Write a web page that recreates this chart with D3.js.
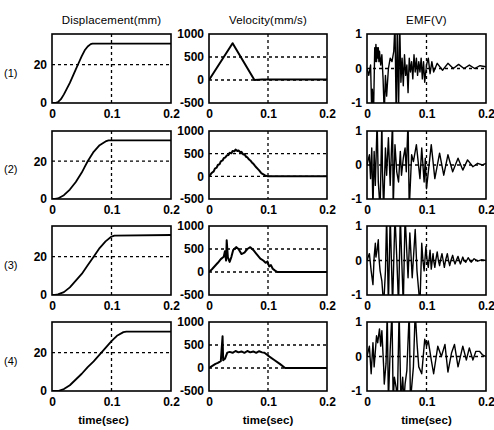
<!DOCTYPE html>
<html>
<head>
<meta charset="utf-8">
<script src="https://cdnjs.cloudflare.com/ajax/libs/d3/7.8.5/d3.min.js"></script>
<style>
body { margin: 0; background: #fff; }
svg text { font-family: "Liberation Sans", Arial, sans-serif; fill: #000; }
</style>
</head>
<body>
<script>
var titles = ["Displacement(mm)", "Velocity(mm/s)", "EMF(V)"];
var rowLabels = ["(1)", "(2)", "(3)", "(4)"];
var xTicks = [0, 0.1, 0.2];
var dispTicks = [0, 20];
var velTicks = [-500, 0, 500, 1000];
var emfTicks = [-1, 0, 1];

// displacement (mm), [time, value]
var disp1 = [[0,0],[0.005,0],[0.01,0.5],[0.015,2],[0.02,4.5],[0.025,7.5],[0.03,10.5],[0.035,14],[0.04,17.5],[0.045,21],[0.05,24.5],[0.055,27.5],[0.06,29.5],[0.065,30.7],[0.068,31],[0.2,31]];
var disp2 = [[0,0],[0.005,0],[0.01,0.3],[0.02,2],[0.03,5],[0.04,9],[0.05,14],[0.055,17],[0.06,20],[0.07,25],[0.08,28.5],[0.09,30.5],[0.095,31],[0.2,31]];
var disp3 = [[0,0],[0.005,0],[0.01,0.3],[0.02,1.5],[0.03,4],[0.04,7.5],[0.05,11],[0.06,15.5],[0.07,20],[0.08,24.5],[0.09,28],[0.1,30.5],[0.105,31],[0.2,31.3]];
var disp4 = [[0,0],[0.01,0],[0.02,1],[0.03,3],[0.04,6],[0.05,9],[0.06,12.5],[0.07,15.5],[0.08,19],[0.09,22.5],[0.1,26],[0.11,29],[0.12,30.7],[0.125,31],[0.2,31]];

// velocity (mm/s)
var vel1 = [[0,0],[0.04,800],[0.077,0],[0.09,10],[0.2,10]];
var vel2 = [[0,0],[0.005,80],[0.008,110],[0.01,170],[0.013,190],[0.015,250],[0.018,270],[0.02,330],[0.023,350],[0.025,400],[0.028,420],[0.03,460],[0.033,470],[0.035,520],[0.038,510],[0.04,560],[0.043,550],[0.045,590],[0.048,560],[0.05,570],[0.053,530],[0.055,540],[0.058,480],[0.06,490],[0.063,430],[0.065,420],[0.068,370],[0.07,350],[0.073,300],[0.075,280],[0.078,230],[0.08,200],[0.083,160],[0.085,130],[0.088,80],[0.09,60],[0.095,20],[0.1,0],[0.2,0]];
var vel3 = [[0,0],[0.005,60],[0.01,130],[0.015,200],[0.02,280],[0.025,330],[0.027,450],[0.029,250],[0.03,690],[0.032,320],[0.035,220],[0.038,330],[0.041,480],[0.046,540],[0.05,500],[0.055,390],[0.06,420],[0.065,500],[0.07,540],[0.075,480],[0.08,400],[0.087,290],[0.092,250],[0.096,200],[0.099,230],[0.102,120],[0.105,150],[0.108,70],[0.112,30],[0.116,0],[0.2,0]];
var vel4 = [[0,0],[0.005,40],[0.011,90],[0.015,110],[0.02,150],[0.023,690],[0.024,170],[0.027,200],[0.031,335],[0.035,350],[0.04,330],[0.045,370],[0.05,340],[0.055,360],[0.06,330],[0.065,370],[0.07,340],[0.075,360],[0.08,330],[0.085,365],[0.09,340],[0.094,330],[0.1,270],[0.11,180],[0.12,90],[0.129,0],[0.2,0]];

// EMF (V)
var emf1 = [[0,0],[0.003,-0.2],[0.006,0.1],[0.008,-1.3],[0.009,-0.6],[0.011,-1.3],[0.013,0.6],[0.014,0.2],[0.015,0.7],[0.016,0.2],[0.017,0.6],[0.018,0.3],[0.019,0.6],[0.02,0.2],[0.021,0.5],[0.023,0.1],[0.025,0.4],[0.027,-0.3],[0.029,-1.3],[0.031,-0.2],[0.033,-0.8],[0.036,0],[0.039,0.3],[0.042,0.2],[0.045,0.5],[0.047,1.3],[0.049,-1.3],[0.051,1.3],[0.053,-1.3],[0.055,1.3],[0.057,-0.4],[0.059,0.3],[0.061,-0.5],[0.063,0.4],[0.065,-0.2],[0.067,0.1],[0.069,-0.7],[0.071,0.3],[0.073,-0.1],[0.075,0.2],[0.077,-0.3],[0.079,0.4],[0.081,-0.1],[0.083,0.3],[0.085,-0.2],[0.087,0.2],[0.089,-0.1],[0.091,0.3],[0.093,-0.3],[0.095,0.2],[0.097,-0.4],[0.1,0.1],[0.103,0.3],[0.106,-0.15],[0.109,0.2],[0.112,-0.1],[0.118,0.15],[0.127,-0.05],[0.136,0.15],[0.145,0],[0.154,0.12],[0.163,0],[0.172,0.1],[0.181,0],[0.19,0.08],[0.2,0.05]];
var emf2 = [[0,0],[0.004,0.3],[0.006,-0.4],[0.008,0.5],[0.01,-1.3],[0.012,0.4],[0.014,-0.6],[0.017,1.3],[0.019,-0.5],[0.022,-1.3],[0.025,1.3],[0.026,-0.2],[0.028,-1.3],[0.031,0.5],[0.033,-0.3],[0.036,0.8],[0.039,-0.6],[0.041,0.4],[0.043,1.3],[0.044,-1.3],[0.047,0.6],[0.05,-0.2],[0.053,-0.5],[0.056,0.4],[0.058,-0.3],[0.061,0.2],[0.064,0.5],[0.066,-0.2],[0.069,1.3],[0.071,-1.3],[0.075,0.3],[0.078,0.1],[0.083,0.6],[0.086,0.1],[0.089,-0.4],[0.092,0.5],[0.096,-0.5],[0.098,0.2],[0.1,-0.7],[0.108,0.6],[0.114,-0.4],[0.122,0.35],[0.129,-0.3],[0.136,0.3],[0.144,-0.2],[0.153,0.2],[0.161,-0.15],[0.169,0.15],[0.178,-0.05],[0.186,0.05],[0.194,0],[0.2,0.05]];
var emf3 = [[0,0],[0.004,0.2],[0.007,-0.3],[0.01,-0.7],[0.012,0.1],[0.014,0.5],[0.015,0.1],[0.017,0.3],[0.019,0.6],[0.02,0.1],[0.022,-0.3],[0.025,-0.6],[0.028,-1.3],[0.031,-0.3],[0.033,1.3],[0.036,-1.3],[0.039,1.3],[0.043,-1.3],[0.047,1.3],[0.05,0.1],[0.053,-1.3],[0.056,1.3],[0.058,0.2],[0.061,-1.3],[0.064,1.3],[0.069,-0.5],[0.072,0.8],[0.076,-0.5],[0.081,0.9],[0.084,-0.3],[0.089,-1.3],[0.092,0.5],[0.094,0],[0.096,-0.3],[0.099,0.4],[0.101,0],[0.103,-0.2],[0.106,0.3],[0.108,-0.25],[0.111,0.2],[0.112,0],[0.114,-0.2],[0.116,0.05],[0.118,0.25],[0.12,0],[0.122,-0.15],[0.124,0.05],[0.126,0.2],[0.128,0],[0.13,-0.2],[0.132,0],[0.135,0.2],[0.137,0],[0.139,-0.15],[0.141,0],[0.144,0.15],[0.146,0],[0.148,-0.1],[0.15,0],[0.153,0.12],[0.155,0],[0.157,-0.1],[0.159,0],[0.161,0.1],[0.163,0],[0.166,-0.05],[0.17,0.08],[0.175,-0.05],[0.18,0.05],[0.186,-0.02],[0.192,0.02],[0.2,0]];
var emf4 = [[0,0],[0.004,0.3],[0.007,-0.5],[0.01,0.4],[0.012,-0.3],[0.016,0.6],[0.018,0.4],[0.021,0.8],[0.023,0.3],[0.025,0.75],[0.028,-0.3],[0.029,-0.8],[0.032,-0.2],[0.034,1.3],[0.036,-1.3],[0.039,0.2],[0.042,1.3],[0.044,-1.3],[0.046,-0.6],[0.049,-0.9],[0.051,-1.3],[0.054,1.3],[0.057,-1.3],[0.06,-0.6],[0.062,-1.3],[0.064,-0.8],[0.067,-0.4],[0.071,1.3],[0.073,-1.3],[0.078,-0.3],[0.081,1.3],[0.084,0.4],[0.087,-0.3],[0.092,-0.5],[0.097,0.5],[0.1,0.3],[0.103,0.45],[0.108,-0.1],[0.112,-0.5],[0.119,0.3],[0.125,0],[0.131,0.35],[0.136,-0.45],[0.142,0.1],[0.147,0.35],[0.153,-0.3],[0.161,0.3],[0.167,-0.1],[0.172,0.25],[0.178,-0.1],[0.183,0.15],[0.189,0.15],[0.194,0.05],[0.2,0]];

var disp = [disp1, disp2, disp3, disp4];
var vel = [vel1, vel2, vel3, vel4];
var emf = [emf1, emf2, emf3, emf4];

var width = 494, height = 430;
var colX = [[52, 171], [209, 327], [367, 486]];
var rowY = [[34, 103], [131, 199], [226, 295], [322, 391]];
var yDomains = [[0, 36], [-500, 1000], [-1, 1]];
var yTicks = [dispTicks, velTicks, emfTicks];
var yGrid = [[20], [0, 500], [0]];
var series = [disp, vel, emf];
var lineWidth = [1.8, 2, 1.4];

var svg = d3.select("body").append("svg")
  .attr("width", width)
  .attr("height", height);

svg.append("rect")
  .attr("width", width)
  .attr("height", height)
  .attr("fill", "#fff");

rowY.forEach(function(ry, r){
  colX.forEach(function(cx, c){
    var x = d3.scaleLinear().domain([0, 0.2]).range(cx);
    var y = d3.scaleLinear().domain(yDomains[c]).range([ry[1], ry[0]]);
    var g = svg.append("g");
    var clipId = "clip" + r + "_" + c;

    g.append("clipPath")
      .attr("id", clipId)
      .append("rect")
      .attr("x", cx[0])
      .attr("y", ry[0])
      .attr("width", cx[1] - cx[0])
      .attr("height", ry[1] - ry[0]);

    // dashed grid
    g.append("line")
      .attr("x1", x(0.1)).attr("x2", x(0.1))
      .attr("y1", ry[0]).attr("y2", ry[1])
      .attr("stroke", "#000")
      .attr("stroke-width", 1.3)
      .attr("stroke-dasharray", "3,3");
    yGrid[c].forEach(function(v){
      g.append("line")
        .attr("x1", cx[0]).attr("x2", cx[1])
        .attr("y1", y(v)).attr("y2", y(v))
        .attr("stroke", "#000")
        .attr("stroke-width", 1.3)
        .attr("stroke-dasharray", "3,3");
    });

    var line = d3.line()
      .x(function(d) { return x(d[0]); })
      .y(function(d) { return y(d[1]); });

    g.append("path")
      .datum(series[c][r])
      .attr("clip-path", "url(#" + clipId + ")")
      .attr("fill", "none")
      .attr("stroke", "#000")
      .attr("stroke-width", lineWidth[c])
      .attr("stroke-linejoin", "round")
      .attr("d", line);

    g.append("rect")
      .attr("x", cx[0])
      .attr("y", ry[0])
      .attr("width", cx[1] - cx[0])
      .attr("height", ry[1] - ry[0])
      .attr("fill", "none")
      .attr("stroke", "#000")
      .attr("stroke-width", 1.6);

    var xAxis = g.append("g")
      .attr("transform", "translate(0," + ry[1] + ")")
      .call(d3.axisBottom(x).tickValues(xTicks).tickSize(0).tickPadding(6)
        .tickFormat(function(d){ return d; }));
    var yAxis = g.append("g")
      .attr("transform", "translate(" + cx[0] + ",0)")
      .call(d3.axisLeft(y).tickValues(yTicks[c]).tickSize(0).tickPadding(5)
        .tickFormat(function(d){ return d; }));
    [xAxis, yAxis].forEach(function(a){
      a.select(".domain").remove();
      a.selectAll("text")
        .attr("fill", "#000")
        .style("font-size", "12px")
        .style("font-weight", "bold")
        .style("font-family", "'Liberation Sans Narrow', 'Liberation Sans', Arial, sans-serif");
    });
  });

  svg.append("text")
    .attr("x", 4)
    .attr("y", (ry[0] + ry[1]) / 2 + 8)
    .style("font-size", "11px")
    .text(rowLabels[r]);
});

titles.forEach(function(t, c){
  svg.append("text")
    .attr("x", (colX[c][0] + colX[c][1]) / 2)
    .attr("y", 24)
    .attr("text-anchor", "middle")
    .style("font-size", "11.5px")
    .style("letter-spacing", "0.2px")
    .text(t);
  svg.append("text")
    .attr("x", (colX[c][0] + colX[c][1]) / 2 - (c == 0 ? 8 : 0))
    .attr("y", 424)
    .attr("text-anchor", "middle")
    .style("font-size", "11.5px")
    .style("font-weight", "bold")
    .text("time(sec)");
});
</script>
</body>
</html>
